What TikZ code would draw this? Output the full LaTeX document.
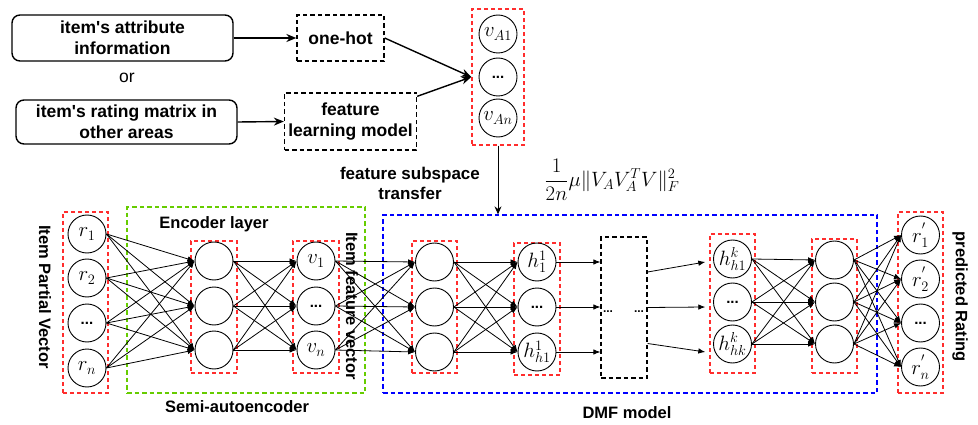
\documentclass[tikz,border=0pt]{standalone}
\usepackage{fontspec}
\setmainfont{Liberation Sans}
\usetikzlibrary{arrows.meta,calc}
\definecolor{myred}{RGB}{255,45,45}
\definecolor{mygreen}{RGB}{102,204,0}
\definecolor{myblue}{RGB}{0,0,255}
\begin{document}
\begin{tikzpicture}[x=1pt,y=-1pt,
  neuron/.style={circle,draw,line width=0.9pt,minimum size=38pt,inner sep=0pt,font=\fontsize{20.74}{24}\selectfont},
  dotsneuron/.style={neuron,font=\fontsize{15}{18}\selectfont\bfseries},
  redbox/.style={draw=myred,line width=1.4pt,dash pattern=on 4pt off 3pt,inner sep=0pt},
  greenbox/.style={draw=mygreen,line width=1.3pt,dash pattern=on 4.5pt off 3pt,inner sep=0pt},
  bluebox/.style={draw=myblue,line width=1.3pt,dash pattern=on 4.5pt off 3pt,inner sep=0pt},
  blackbox/.style={draw,line width=1.3pt,dash pattern=on 4.5pt off 3pt,inner sep=0pt,align=center,font=\fontsize{17.5}{21}\selectfont\bfseries},
  roundbox/.style={draw,rounded corners=8pt,line width=1.4pt,inner sep=0pt,align=center,font=\fontsize{17.5}{21}\selectfont\bfseries},
  lbl/.style={font=\fontsize{16.5}{19}\selectfont\bfseries,inner sep=0pt,align=center},
  conn/.style={line width=0.8pt,-{Latex[length=7pt,width=5.5pt]}},
  bigarrow/.style={line width=1.4pt,-{Stealth[length=10pt,width=8pt]}}
]
\useasboundingbox (0,0) rectangle (978,425);

% ---------- top part ----------
\node[roundbox,minimum width=221pt,minimum height=46pt] (box1) at (122.5,38) {item\textquotesingle s attribute\\information};
\node[font=\fontsize{17.5}{21}\selectfont,inner sep=0pt] (or) at (127,78) {or};
\node[roundbox,minimum width=221pt,minimum height=44pt] (box2) at (126.5,122) {item\textquotesingle s rating matrix in\\other areas};
\node[blackbox,minimum width=87pt,minimum height=46pt] (onehot) at (340.5,38) {one-hot};
\node[blackbox,minimum width=132pt,minimum height=57pt] (flm) at (350.5,121.5) {feature\\learning model};

\node[redbox,minimum width=52pt,minimum height=136pt] (vabox) at (498,77) {};
\node[neuron] (va1) at (498,34) {$v_{A1}$};
\node[dotsneuron] (va2) at (498,77) {...};
\node[neuron] (va3) at (498,118) {$v_{An}$};

\draw[bigarrow] (box1.east) -- (onehot.west);
\draw[bigarrow] (box2.east) -- (flm.west);
\draw[bigarrow] (onehot.east) -- (vabox.west);
\draw[bigarrow] ($(flm.north east)+(0,4)$) -- (vabox.west);

\node[lbl,font=\fontsize{17}{20}\selectfont\bfseries] (fst) at (410,183) {feature subspace\\transfer};
\node[inner sep=0pt,font=\fontsize{20.74}{24}\selectfont] (formula) at (612,180) {$\displaystyle\frac{1}{2n}\mu\|V_AV_A^TV\|_F^2$};

% ---------- boxes ----------
\node[redbox,minimum width=45pt,minimum height=181pt] (rbox) at (85.5,302.5) {};
\node[greenbox,minimum width=238pt,minimum height=186pt] (sae) at (246,300) {};
\node[redbox,minimum width=46pt,minimum height=132pt] (abox) at (214,307) {};
\node[redbox,minimum width=46pt,minimum height=132pt] (vbox) at (316,307) {};
\node[bluebox,minimum width=494pt,minimum height=178pt] (dmf) at (630,304) {};
\node[redbox,minimum width=45pt,minimum height=132pt] (bbox) at (434.5,307) {};
\node[redbox,minimum width=46pt,minimum height=132pt] (hbox) at (537,309) {};
\node[blackbox,minimum width=46pt,minimum height=141pt] (dbox) at (624,307.5) {};
\node[redbox,minimum width=45pt,minimum height=139pt] (kbox) at (732.5,303.5) {};
\node[redbox,minimum width=45pt,minimum height=134pt] (cbox) at (834.5,306) {};
\node[redbox,minimum width=45pt,minimum height=181pt] (obox) at (920.5,302.5) {};

\draw[bigarrow,line width=1pt,-{Stealth[length=8pt,width=7pt]}] (vabox.south) -- (vabox.south |- dmf.north);

% ---------- neurons ----------
\node[neuron] (r1) at (87,234) {$r_1$};
\node[neuron] (r2) at (87,278) {$r_2$};
\node[dotsneuron] (r3) at (87,323) {...};
\node[neuron] (r4) at (87,368) {$r_n$};

\node[neuron] (a1) at (214,261) {};
\node[neuron] (a2) at (214,306) {};
\node[neuron] (a3) at (214,350) {};

\node[neuron] (v1) at (316,261) {$v_1$};
\node[dotsneuron] (v2) at (316,306) {...};
\node[neuron] (v3) at (316,350) {$v_n$};

\node[neuron] (b1) at (434.5,262) {};
\node[neuron] (b2) at (434.5,307) {};
\node[neuron] (b3) at (434.5,352) {};

\node[neuron] (h1) at (537,262) {$h^1_1$};
\node[dotsneuron] (h2) at (537,307) {...};
\node[neuron] (h3) at (537,352) {$h^1_{h1}$};

\node[neuron] (k1) at (732.5,259) {$h^k_{h1}$};
\node[dotsneuron] (k2) at (732.5,302) {...};
\node[neuron] (k3) at (732.5,344) {$h^k_{hk}$};

\node[neuron] (c1) at (834.5,260) {};
\node[neuron] (c2) at (834.5,302) {};
\node[neuron] (c3) at (834.5,344) {};

\node[neuron] (o1) at (920.5,235) {$r^{'}_1$};
\node[neuron] (o2) at (920.5,279) {$r^{'}_2$};
\node[dotsneuron] (o3) at (920.5,323) {...};
\node[neuron] (o4) at (920.5,367) {$r^{'}_n$};

% ---------- connections ----------
\foreach \i in {1,...,4}{\foreach \j in {1,2,3}{\draw[conn] (r\i.east) -- (a\j.west);}}
\foreach \i in {1,2,3}{\foreach \j in {1,2,3}{\draw[conn] (a\i.east) -- (v\j.west);}}
\foreach \i in {1,2,3}{\foreach \j in {1,2,3}{\draw[conn] (v\i.east) -- (b\j.west);}}
\foreach \i in {1,2,3}{\foreach \j in {1,2,3}{\draw[conn] (b\i.east) -- (h\j.west);}}
\foreach \i in {1,2,3}{\draw[conn] (h\i.east) -- (dbox.west |- h\i.east);}
\draw[conn] ($(dbox.east)+(0,-35.5)$) -- ([xshift=-4pt]kbox.west |- h1.center);
\draw[conn] (dbox.east) -- ([xshift=-4pt]kbox.west |- h2.center);
\draw[conn] ($(dbox.east)+(0,36)$) -- ([xshift=-4pt]kbox.west |- h3.center);
\foreach \i in {1,2,3}{\foreach \j in {1,2,3}{\draw[conn] (k\i.east) -- (c\j.west);}}
\foreach \i in {1,2,3}{\foreach \j in {1,...,4}{\draw[conn] (c\i.east) -- (o\j.west);}}

\node[font=\fontsize{12}{14}\selectfont\bfseries,inner sep=0pt,anchor=base] (dl) at (608,312) {...};
\node[font=\fontsize{12}{14}\selectfont\bfseries,inner sep=0pt,anchor=base] (dr) at (639,312) {...};

% ---------- labels ----------
\node[lbl,rotate=-90] (ipv) at (45,297) {Item Partial Vector};
\node[lbl,rotate=-90] (ifv) at (352,306) {Item feature vector};
\node[lbl,rotate=-90] (pr) at (960,297) {predicted Rating};
\node[lbl] (enc) at (214,224) {Encoder layer};
\node[lbl] (semi) at (237,407) {Semi-autoencoder};
\node[lbl] (dmflbl) at (627,413) {DMF model};
\end{tikzpicture}
\end{document}
